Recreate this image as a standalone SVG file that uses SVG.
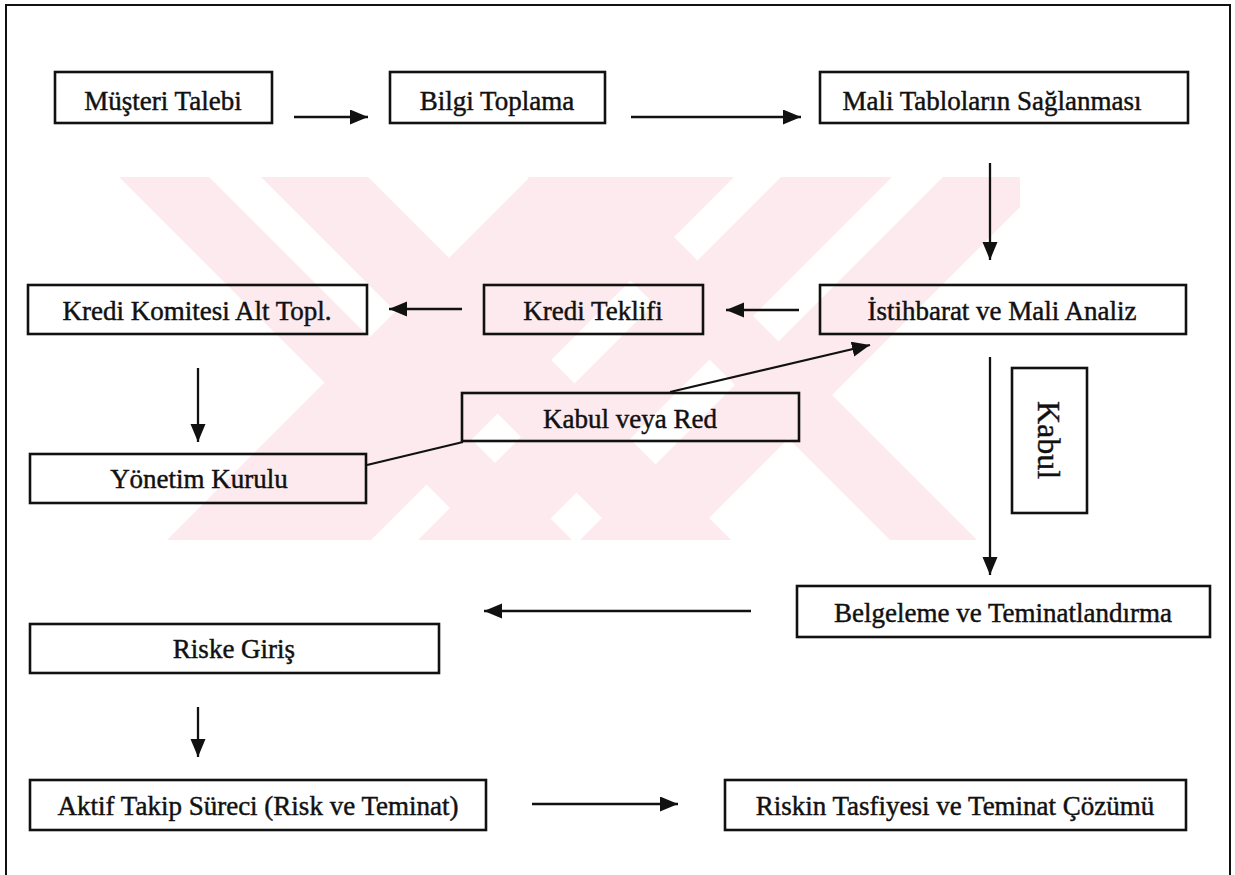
<svg xmlns="http://www.w3.org/2000/svg" width="1235" height="875" viewBox="0 0 1235 875">
  <style>
    .box { fill: none; stroke: #111; stroke-width: 2.6; }
    .lbl { font-family: "Liberation Serif", "Times New Roman", serif; font-size: 27px; fill: #111; stroke: #111; stroke-width: 0.45; text-anchor: middle; }
    .big { font-size: 32px; }
    .edge { stroke: #111; stroke-width: 2.3; fill: none; }
    .arrow { marker-end: url(#head); }
    .stripe { fill: #fdeaee; }
  </style>
  <defs>
    <marker id="head" markerUnits="userSpaceOnUse" markerWidth="19" markerHeight="16" refX="18" refY="7.5" orient="auto">
      <path d="M0,0 L18,7.5 L0,15 z" fill="#111"/>
    </marker>
    <clipPath id="band">
      <rect x="100" y="177" width="920" height="363"/>
    </clipPath>
  </defs>

  <rect width="1235" height="875" fill="#fff"/>

  <!-- faint diagonal stripe pattern in the background -->
  <g id="backdrop" clip-path="url(#band)">
    <polygon class="stripe" points="119,177 209,177 572,540 482,540"/>
    <polygon class="stripe" points="261,177 368,177 731,540 624,540"/>
    <polygon class="stripe" points="527,177 614,177 977,540 890,540"/>
    <polygon class="stripe" points="530,177 734,177 371,540 167,540"/>
    <polygon class="stripe" points="781,177 892,177 529,540 418,540"/>
    <polygon class="stripe" points="943,177 1050,177 687,540 580,540"/>
  </g>

  <!-- outer frame, open at the bottom -->
  <path id="frame" d="M6,875 V5 H1230 V875" fill="none" stroke="#111" stroke-width="2"/>

  <g id="connectors">
    <line class="edge arrow" x1="294" y1="117" x2="368" y2="117"/>
    <line class="edge arrow" x1="631" y1="117" x2="801" y2="117"/>
    <line class="edge arrow" x1="990" y1="163" x2="990" y2="260"/>
    <line class="edge arrow" x1="799" y1="310" x2="726" y2="310"/>
    <line class="edge arrow" x1="462" y1="309" x2="389" y2="309"/>
    <line class="edge arrow" x1="198" y1="368" x2="198" y2="442"/>
    <line class="edge" x1="367" y1="465" x2="463" y2="442"/>
    <line class="edge arrow" x1="670" y1="392" x2="870" y2="345"/>
    <line class="edge arrow" x1="990" y1="357" x2="990" y2="575"/>
    <line class="edge arrow" x1="751" y1="611" x2="484" y2="611"/>
    <line class="edge arrow" x1="198" y1="707" x2="198" y2="757"/>
    <line class="edge arrow" x1="532" y1="804" x2="678" y2="804"/>
  </g>

  <g id="n-musteri">
    <rect class="box" x="55" y="72" width="217" height="51"/>
    <text class="lbl" x="163" y="110">Müşteri Talebi</text>
  </g>
  <g id="n-bilgi">
    <rect class="box" x="390" y="72" width="215" height="51"/>
    <text class="lbl" x="497" y="110">Bilgi Toplama</text>
  </g>
  <g id="n-mali">
    <rect class="box" x="820" y="72" width="368" height="51"/>
    <text class="lbl" x="992" y="110">Mali Tabloların Sağlanması</text>
  </g>
  <g id="n-istihbarat">
    <rect class="box" x="820" y="285" width="366" height="49"/>
    <text class="lbl" x="1002" y="320">İstihbarat ve Mali Analiz</text>
  </g>
  <g id="n-teklif">
    <rect class="box" x="484" y="285" width="219" height="49"/>
    <text class="lbl" x="593" y="320">Kredi Teklifi</text>
  </g>
  <g id="n-komite">
    <rect class="box" x="28" y="285" width="339" height="49"/>
    <text class="lbl" x="197" y="320">Kredi Komitesi Alt Topl.</text>
  </g>
  <g id="n-kabulred">
    <rect class="box" x="462" y="393" width="337" height="48"/>
    <text class="lbl" x="630" y="428">Kabul veya Red</text>
  </g>
  <g id="n-yonetim">
    <rect class="box" x="30" y="454" width="336" height="49"/>
    <text class="lbl" x="199" y="488">Yönetim Kurulu</text>
  </g>
  <g id="n-kabul">
    <rect class="box" x="1012" y="368" width="75" height="145"/>
    <text class="lbl big" transform="translate(1038,440) rotate(90)">Kabul</text>
  </g>
  <g id="n-belge">
    <rect class="box" x="797" y="586" width="413" height="51"/>
    <text class="lbl" x="1003" y="622">Belgeleme ve Teminatlandırma</text>
  </g>
  <g id="n-riske">
    <rect class="box" x="30" y="624" width="409" height="49"/>
    <text class="lbl" x="234" y="658">Riske Giriş</text>
  </g>
  <g id="n-aktif">
    <rect class="box" x="30" y="780" width="456" height="50"/>
    <text class="lbl" x="258" y="815">Aktif Takip Süreci (Risk ve Teminat)</text>
  </g>
  <g id="n-riskin">
    <rect class="box" x="725" y="780" width="461" height="50"/>
    <text class="lbl" x="955" y="815">Riskin Tasfiyesi ve Teminat Çözümü</text>
  </g>
</svg>
